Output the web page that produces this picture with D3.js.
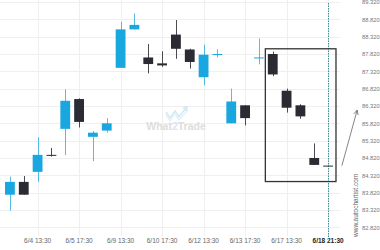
<!DOCTYPE html>
<html>
<head>
<meta charset="utf-8">
<script src="https://cdn.jsdelivr.net/npm/d3@7"></script>
<style>
  body { margin: 0; background: #fff; }
  text { font-family: 'Liberation Sans', Arial, sans-serif; }
</style>
</head>
<body>
<div id="chart"></div>
<script>
// candle values (24 candles)
const opens  = [83.76, 84.13, 84.42, 84.91, 85.66, 86.52, 85.43, 85.61, 87.42, 88.53, 87.72, 87.55,
                88.38, 87.95, 87.15, 87.81, 85.82, 86.34, 87.70, 87.82, 86.76, 86.34, 84.82, 84.60]
const highs  = [84.28, 84.30, 85.42, 85.11, 86.80, 86.54, 85.60, 85.97, 88.75, 88.99, 88.11, 87.90,
                88.80, 87.97, 88.09, 87.95, 86.82, 86.34, 88.27, 87.89, 86.82, 86.37, 85.24, 84.60]
const lows   = [83.30, 83.76, 84.13, 84.86, 84.90, 85.70, 84.73, 85.55, 87.42, 88.53, 87.26, 87.45,
                87.68, 87.40, 86.92, 87.72, 85.82, 85.76, 87.52, 87.18, 86.13, 85.95, 84.62, 84.60]
const closes = [84.13, 83.76, 84.91, 84.90, 86.47, 85.86, 85.55, 85.82, 88.53, 88.66, 87.53, 87.49,
                87.97, 87.59, 87.80, 87.82, 86.45, 85.97, 87.72, 87.23, 86.27, 86.02, 84.62, 84.60]

const tickLabels = ['6/4 13:30', '6/5 17:30', '6/9 13:30', '6/10 17:30',
                    '6/12 13:30', '6/13 17:30', '6/17 13:30', '6/18 21:30']
const priceTicks = [82.82, 83.32, 83.82, 84.32, 84.82, 85.32, 85.82, 86.32,
                    86.82, 87.32, 87.82, 88.32, 88.82, 89.32]

// pattern box and forecast arrow
const pattern = { first: 19, last: 23, top: 87.97, bottom: 84.14 }
const forecast = { from: 84.60, to: 86.20 }

const candles = opens.map((o, i) => ({
  i: i, open: o, high: highs[i], low: lows[i], close: closes[i]
}))

const width = 380
const height = 250

const svg = d3
  .select('#chart')
  .append('svg')
  .attr('width', width)
  .attr('height', height)

const x = d3.scaleBand()
  .domain(d3.range(candles.length))
  .range([1, 337])
  .padding(0.29)

const y = d3.scaleLinear()
  .domain([82.82, 89.32])
  .range([227.3, 2])

const cx = i => x(i) + x.bandwidth() / 2

// grid
svg.append('g')
  .selectAll('line')
  .data(priceTicks)
  .enter()
  .append('line')
  .attr('x1', 0)
  .attr('x2', 340)
  .attr('y1', d => Math.round(y(d)) + 0.5)
  .attr('y2', d => Math.round(y(d)) + 0.5)
  .attr('stroke', '#efefef')

const tickIdx = d3.range(2, candles.length, 3)

svg.append('g')
  .selectAll('line')
  .data(tickIdx)
  .enter()
  .append('line')
  .attr('x1', d => Math.round(cx(d)) + 0.5)
  .attr('x2', d => Math.round(cx(d)) + 0.5)
  .attr('y1', 0)
  .attr('y2', 236)
  .attr('stroke', '#efefef')

// x axis labels
const xAxis = d3.axisBottom(x)
  .tickValues(tickIdx)
  .tickFormat((d, k) => tickLabels[k])
  .tickSize(0)
  .tickPadding(0)

svg.append('g')
  .attr('class', 'x-axis')
  .attr('transform', 'translate(0,238)')
  .call(xAxis)
  .call(g => g.select('.domain').remove())
  .selectAll('text')
  .attr('font-size', 6.5)
  .attr('fill', (d, k) => k === tickLabels.length - 1 ? '#222' : '#666')
  .attr('font-weight', (d, k) => k === tickLabels.length - 1 ? 'bold' : 'normal')

// y axis labels
const yAxis = d3.axisRight(y)
  .tickValues(priceTicks)
  .tickFormat(d3.format('.3f'))
  .tickSize(0)
  .tickPadding(0)

svg.append('g')
  .attr('class', 'y-axis')
  .attr('transform', 'translate(362,0)')
  .call(yAxis)
  .call(g => g.select('.domain').remove())
  .selectAll('text')
  .attr('font-size', 5.8)
  .attr('fill', '#777')

// watermark
const wm = svg.append('g').attr('opacity', 0.9)
wm.append('path')
  .attr('d', 'M166,112 L170,118 L175,111 L179,117 L186,108 M183,108 L187,107 L186,111')
  .attr('fill', 'none')
  .attr('stroke', '#cde8f6')
  .attr('stroke-width', 1.6)
wm.append('path')
  .attr('d', 'M166,115 L170,121 L175,114 L179,120 L188,110')
  .attr('fill', 'none')
  .attr('stroke', '#dcefF9')
  .attr('stroke-width', 1.2)
const wmText = wm.append('text')
  .attr('x', 176)
  .attr('y', 130)
  .attr('text-anchor', 'middle')
  .attr('font-size', 10.5)
  .attr('font-weight', 'bold')
  .attr('fill', '#dadada')
wmText.append('tspan').text('What')
wmText.append('tspan').attr('fill', '#cfe6f3').text('2')
wmText.append('tspan').text('Trade')

// current time line
svg.append('line')
  .attr('x1', Math.round(cx(candles.length - 1)) + 0.5)
  .attr('x2', Math.round(cx(candles.length - 1)) + 0.5)
  .attr('y1', 3)
  .attr('y2', 239)
  .attr('stroke', '#3f8c98')
  .attr('stroke-dasharray', '1.5,1')

// candles
const blue = '#1aa7e0'
const dark = '#2b2c33'
const colorOf = d => d.close > d.open ? blue : dark

svg.append('g')
  .selectAll('line')
  .data(candles)
  .enter()
  .append('line')
  .attr('x1', d => Math.round(cx(d.i)) + 0.5)
  .attr('x2', d => Math.round(cx(d.i)) + 0.5)
  .attr('y1', d => y(d.high))
  .attr('y2', d => y(d.low))
  .attr('stroke', colorOf)
  .attr('stroke-opacity', d => d.close > d.open ? 0.75 : 0.85)

svg.append('g')
  .selectAll('rect')
  .data(candles)
  .enter()
  .append('rect')
  .attr('x', d => x(d.i))
  .attr('width', x.bandwidth())
  .attr('y', d => y(Math.max(d.open, d.close)))
  .attr('height', d => Math.max(1, Math.abs(y(d.open) - y(d.close))))
  .attr('fill', colorOf)

// pattern box
svg.append('rect')
  .attr('x', x(pattern.first) - 2.5)
  .attr('y', y(pattern.top))
  .attr('width', x(pattern.last) + x.bandwidth() + 3 - (x(pattern.first) - 2.5))
  .attr('height', y(pattern.bottom) - y(pattern.top))
  .attr('fill', 'none')
  .attr('stroke', '#333')
  .attr('stroke-width', 1.3)

// forecast arrow
svg.append('defs')
  .append('marker')
  .attr('id', 'arrow')
  .attr('viewBox', '0 0 10 10')
  .attr('refX', 9)
  .attr('refY', 5)
  .attr('markerWidth', 7)
  .attr('markerHeight', 7)
  .attr('orient', 'auto')
  .append('path')
  .attr('d', 'M1,1 L9,5 L1,9')
  .attr('fill', 'none')
  .attr('stroke', '#555')
  .attr('stroke-width', 1.2)

const lastX = cx(candles.length - 1)
svg.append('line')
  .attr('x1', lastX + x.step())
  .attr('y1', y(forecast.from))
  .attr('x2', lastX + x.step() * 2.1)
  .attr('y2', y(forecast.to))
  .attr('stroke', '#666')
  .attr('stroke-width', 0.8)
  .attr('marker-end', 'url(#arrow)')

// source text
svg.append('text')
  .attr('transform', 'translate(358,237) rotate(-90)')
  .attr('font-size', 6.5)
  .attr('fill', '#666')
  .text('www.autochartist.com')
</script>
</body>
</html>
